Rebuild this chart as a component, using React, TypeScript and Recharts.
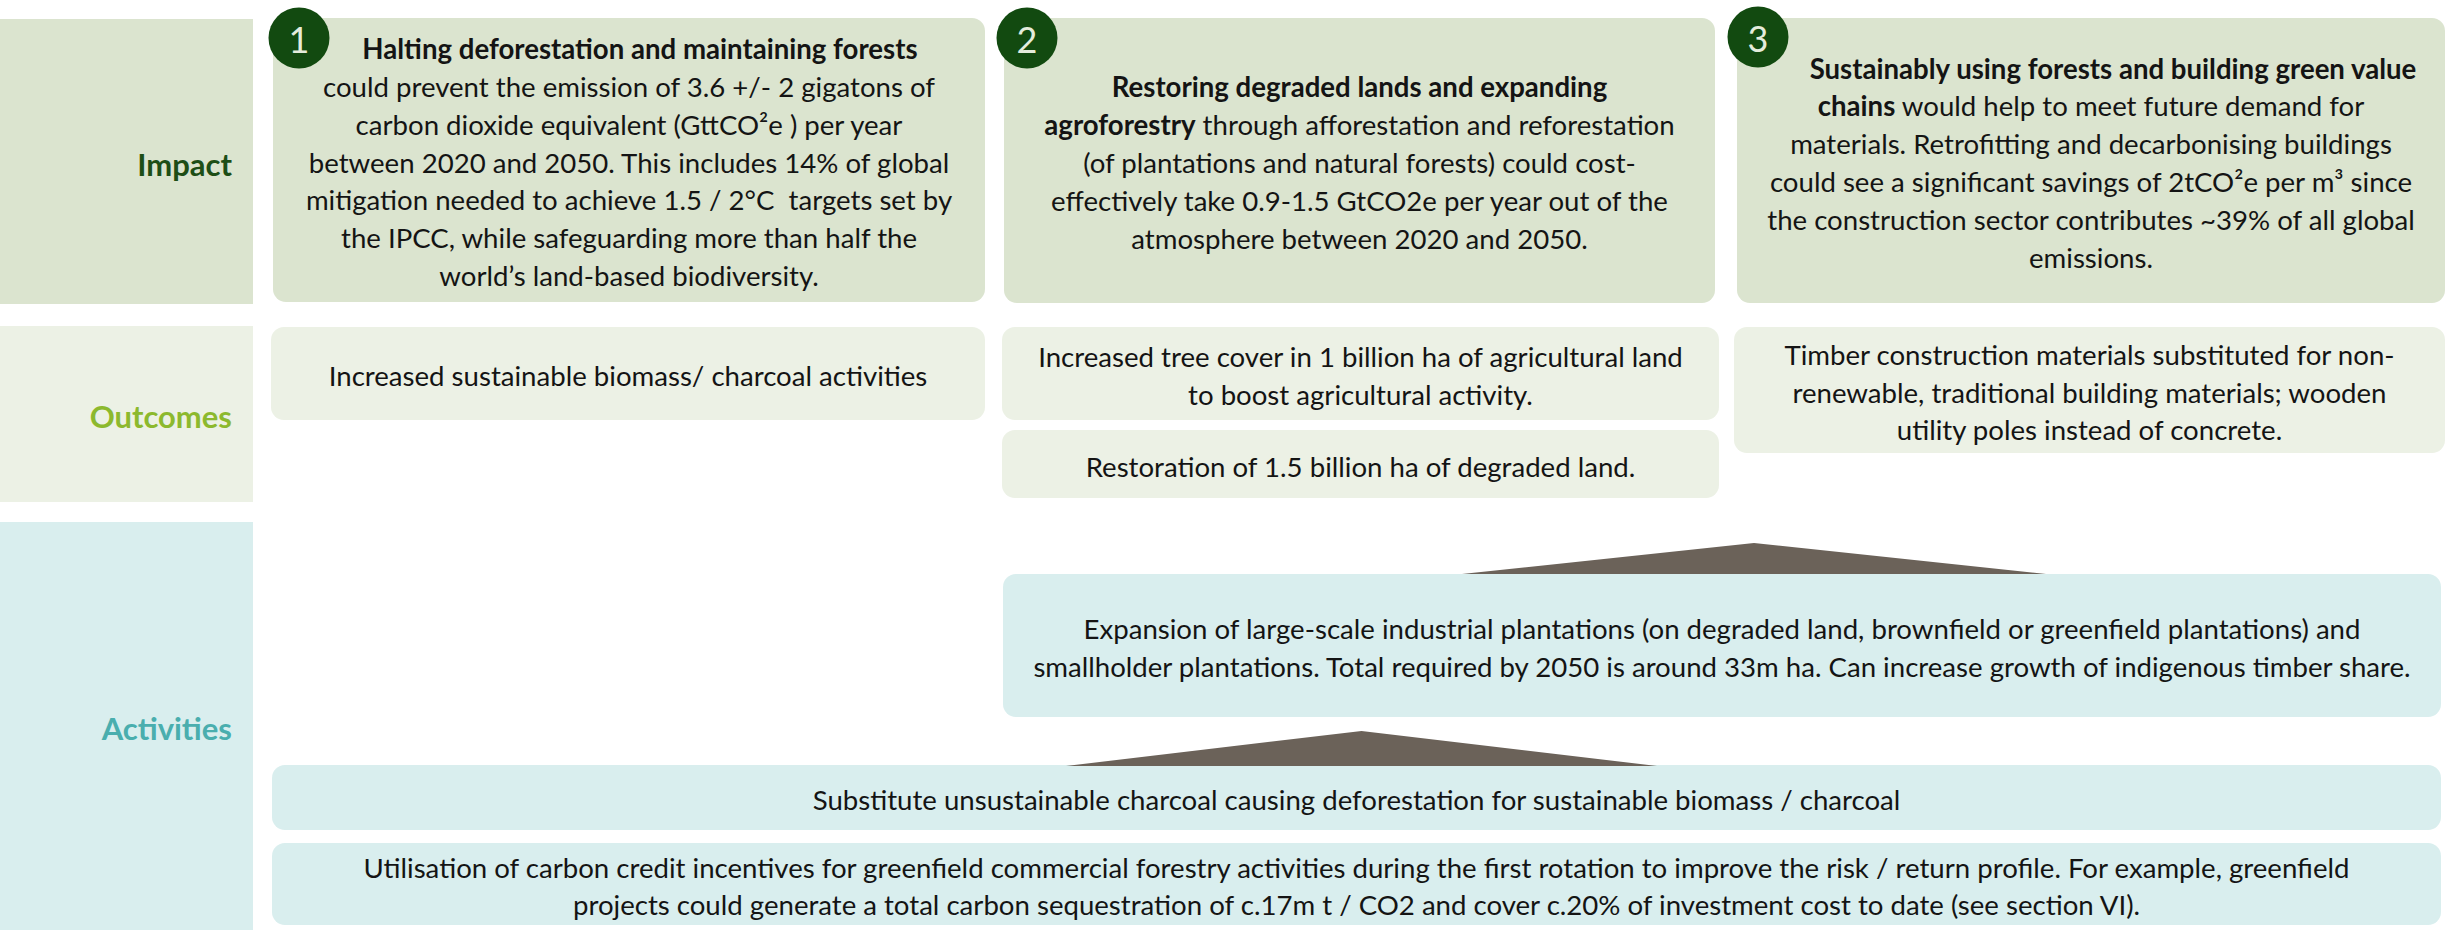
import React from "react";
import { ComposedChart, ReferenceArea, Scatter, XAxis, YAxis } from "recharts";

const WIDTH = 2445;
const HEIGHT = 930;
const FONT = "Lato, 'Noto Sans', sans-serif";
const FONT_SIZE = 27.6;
const LINE_HEIGHT = 37.8;

const COLORS = {
  impact: "#dbe4cf",
  outcome: "#ecf1e5",
  activity: "#d9eeee",
  badge: "#124a10",
  badgeText: "#e4ecdc",
  arrow: "#6b6259",
  text: "#141414",
  impactLabel: "#1d4e16",
  outcomeLabel: "#8cb92e",
  activityLabel: "#4aaeae",
};

// row labels on the left
const rowLabels = ["Impact", "Outcomes", "Activities"];
const rowLabelColors = [COLORS.impactLabel, COLORS.outcomeLabel, COLORS.activityLabel];

// numbered badges on the impact boxes
const badgeNumbers = ["1", "2", "3"];

// text held in each box, **...** marks bold runs
const impactTexts = [
  [
    "**Halting deforestation and maintaining forests**",
    "could prevent the emission of 3.6 +/- 2 gigatons of",
    "carbon dioxide equivalent (GttCO²e ) per year",
    "between 2020 and 2050. This includes 14% of global",
    "mitigation needed to achieve 1.5 / 2°C  targets set by",
    "the IPCC, while safeguarding more than half the",
    "world’s land-based biodiversity.",
  ],
  [
    "**Restoring degraded lands and expanding**",
    "**agroforestry** through afforestation and reforestation",
    "(of plantations and natural forests) could cost-",
    "effectively take 0.9-1.5 GtCO2e per year out of the",
    "atmosphere between 2020 and 2050.",
  ],
  [
    "**Sustainably using forests and building green value**",
    "**chains** would help to meet future demand for",
    "materials. Retrofitting and decarbonising buildings",
    "could see a significant savings of 2tCO²e per m³ since",
    "the construction sector contributes ~39% of all global",
    "emissions.",
  ],
];

const outcomeTexts = [
  ["Increased sustainable biomass/ charcoal activities"],
  ["Increased tree cover in 1 billion ha of agricultural land", "to boost agricultural activity."],
  ["Restoration of 1.5 billion ha of degraded land."],
  [
    "Timber construction materials substituted for non-",
    "renewable, traditional building materials; wooden",
    "utility poles instead of concrete.",
  ],
];

const activityTexts = [
  [
    "Expansion of large-scale industrial plantations (on degraded land, brownfield or greenfield plantations) and",
    "smallholder plantations. Total required by 2050 is around 33m ha. Can increase growth of indigenous timber share.",
  ],
  ["Substitute unsustainable charcoal causing deforestation for sustainable biomass / charcoal"],
  [
    "Utilisation of carbon credit incentives for greenfield commercial forestry activities during the first rotation to improve the risk / return profile. For example, greenfield",
    "projects could generate a total carbon sequestration of c.17m t / CO2 and cover c.20% of investment cost to date (see section VI).",
  ],
];

// layout of the diagram in page pixels
const panels = [
  { x1: 0, x2: 253, y1: 19, y2: 304, fill: COLORS.impact },
  { x1: 0, x2: 253, y1: 326, y2: 502, fill: COLORS.outcome },
  { x1: 0, x2: 253, y1: 522, y2: 930, fill: COLORS.activity },
];

const boxes = [
  { x1: 273, x2: 985, y1: 18, y2: 302, fill: COLORS.impact, lines: impactTexts[0], firstDx: 11 },
  { x1: 1004, x2: 1715, y1: 18, y2: 303, fill: COLORS.impact, lines: impactTexts[1] },
  { x1: 1737, x2: 2445, y1: 18, y2: 303, fill: COLORS.impact, lines: impactTexts[2], firstDx: 22 },
  { x1: 271, x2: 985, y1: 327, y2: 420, fill: COLORS.outcome, lines: outcomeTexts[0] },
  { x1: 1002, x2: 1719, y1: 327, y2: 420, fill: COLORS.outcome, lines: outcomeTexts[1] },
  { x1: 1002, x2: 1719, y1: 430, y2: 498, fill: COLORS.outcome, lines: outcomeTexts[2] },
  { x1: 1734, x2: 2445, y1: 327, y2: 453, fill: COLORS.outcome, lines: outcomeTexts[3] },
  { x1: 1003, x2: 2441, y1: 574, y2: 717, fill: COLORS.activity, lines: activityTexts[0] },
  { x1: 272, x2: 2441, y1: 765, y2: 830, fill: COLORS.activity, lines: activityTexts[1] },
  { x1: 272, x2: 2441, y1: 843, y2: 925, fill: COLORS.activity, lines: activityTexts[2] },
];

const arrows = [
  { x1: 1462, x2: 2046, y1: 543, y2: 574 },
  { x1: 1066, x2: 1657, y1: 731, y2: 766 },
];

const badgeData = [
  { x: 299, y: 38, n: badgeNumbers[0] },
  { x: 1027, y: 38, n: badgeNumbers[1] },
  { x: 1758, y: 37, n: badgeNumbers[2] },
];

function renderRuns(line: string) {
  return line
    .split("**")
    .map((part, i) =>
      part ? (
        <tspan key={i} fontWeight={i % 2 === 1 ? 700 : 400}>
          {part}
        </tspan>
      ) : null
    );
}

function boxShape(lines: string[], fill: string, firstDx = 0) {
  return (props: any) => {
    const { x, y, width, height } = props;
    const cx = x + width / 2;
    const cy = y + height / 2;
    return (
      <g>
        <rect x={x} y={y} width={width} height={height} rx={13} ry={13} fill={fill} />
        <text
          fontFamily={FONT}
          fontSize={FONT_SIZE}
          fill={COLORS.text}
          textAnchor="middle"
          style={{ whiteSpace: "pre" }}
        >
          {lines.map((line, i) => (
            <tspan
              key={i}
              x={cx + (i === 0 ? firstDx : 0)}
              y={cy + (i - (lines.length - 1) / 2) * LINE_HEIGHT + 2}
              dominantBaseline="central"
            >
              {renderRuns(line)}
            </tspan>
          ))}
        </text>
      </g>
    );
  };
}

function panelShape(label: string, fill: string, color: string) {
  return (props: any) => {
    const { x, y, width, height } = props;
    return (
      <g>
        <rect x={x} y={y} width={width} height={height} fill={fill} />
        <text
          x={x + width - 21}
          y={y + height / 2 + 2}
          textAnchor="end"
          dominantBaseline="central"
          fontFamily={FONT}
          fontSize={31}
          fontWeight={700}
          fill={color}
        >
          {label}
        </text>
      </g>
    );
  };
}

function arrowShape(props: any) {
  const { x, y, width, height } = props;
  const pts = `${x},${y + height} ${x + width / 2},${y} ${x + width},${y + height}`;
  return <polygon points={pts} fill={COLORS.arrow} />;
}

function Badge(props: any) {
  const { cx, cy, payload } = props;
  return (
    <g>
      <circle cx={cx} cy={cy} r={30.5} fill={COLORS.badge} />
      <text
        x={cx}
        y={cy + 1}
        textAnchor="middle"
        dominantBaseline="central"
        fontFamily={FONT}
        fontSize={36}
        fill={COLORS.badgeText}
      >
        {payload.n}
      </text>
    </g>
  );
}

export default function App() {
  return (
    <div style={{ width: WIDTH, height: HEIGHT, background: "#ffffff" }}>
      <style>{"body{margin:0;}"}</style>
      <ComposedChart width={WIDTH} height={HEIGHT} margin={{ top: 0, right: 0, bottom: 0, left: 0 }}>
        <XAxis type="number" dataKey="x" domain={[0, WIDTH]} allowDataOverflow hide />
        <YAxis type="number" dataKey="y" domain={[0, HEIGHT]} allowDataOverflow reversed hide />
        {panels.map((p, i) => (
          <ReferenceArea
            key={`panel-${i}`}
            x1={p.x1}
            x2={p.x2}
            y1={p.y1}
            y2={p.y2}
            ifOverflow="visible"
            shape={panelShape(rowLabels[i], p.fill, rowLabelColors[i])}
          />
        ))}
        {boxes.map((b, i) => (
          <ReferenceArea
            key={`box-${i}`}
            x1={b.x1}
            x2={b.x2}
            y1={b.y1}
            y2={b.y2}
            ifOverflow="visible"
            shape={boxShape(b.lines, b.fill, b.firstDx)}
          />
        ))}
        {arrows.map((a, i) => (
          <ReferenceArea
            key={`arrow-${i}`}
            x1={a.x1}
            x2={a.x2}
            y1={a.y1}
            y2={a.y2}
            ifOverflow="visible"
            shape={arrowShape}
          />
        ))}
        <Scatter data={badgeData} shape={Badge} isAnimationActive={false} />
      </ComposedChart>
    </div>
  );
}
